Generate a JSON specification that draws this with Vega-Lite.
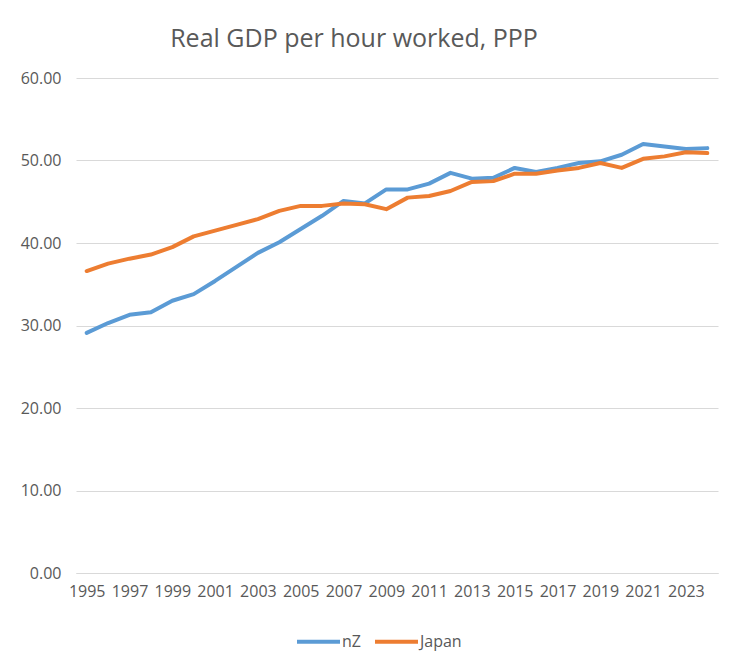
{
  "$schema": "https://vega.github.io/schema/vega-lite/v6.json",
  "width": 642,
  "height": 495,
  "autosize": {"type": "none"},
  "padding": {"left": 76, "top": 78, "right": 34, "bottom": 98},
  "background": "white",
  "title": {
    "text": "Real GDP per hour worked, PPP",
    "font": "Open Sans",
    "fontSize": 25,
    "fontWeight": "normal",
    "color": "#595959",
    "anchor": "middle",
    "dx": -43,
    "offset": 18
  },
  "data": {
    "values": [
      {"year": 1995, "series": "nZ", "value": 29.1},
      {"year": 1996, "series": "nZ", "value": 30.3},
      {"year": 1997, "series": "nZ", "value": 31.3},
      {"year": 1998, "series": "nZ", "value": 31.6},
      {"year": 1999, "series": "nZ", "value": 33.0},
      {"year": 2000, "series": "nZ", "value": 33.8},
      {"year": 2001, "series": "nZ", "value": 35.4},
      {"year": 2002, "series": "nZ", "value": 37.1},
      {"year": 2003, "series": "nZ", "value": 38.8},
      {"year": 2004, "series": "nZ", "value": 40.1},
      {"year": 2005, "series": "nZ", "value": 41.7},
      {"year": 2006, "series": "nZ", "value": 43.3},
      {"year": 2007, "series": "nZ", "value": 45.1},
      {"year": 2008, "series": "nZ", "value": 44.8},
      {"year": 2009, "series": "nZ", "value": 46.5},
      {"year": 2010, "series": "nZ", "value": 46.5},
      {"year": 2011, "series": "nZ", "value": 47.2},
      {"year": 2012, "series": "nZ", "value": 48.5},
      {"year": 2013, "series": "nZ", "value": 47.8},
      {"year": 2014, "series": "nZ", "value": 47.9},
      {"year": 2015, "series": "nZ", "value": 49.1},
      {"year": 2016, "series": "nZ", "value": 48.6},
      {"year": 2017, "series": "nZ", "value": 49.1},
      {"year": 2018, "series": "nZ", "value": 49.7},
      {"year": 2019, "series": "nZ", "value": 49.9},
      {"year": 2020, "series": "nZ", "value": 50.7},
      {"year": 2021, "series": "nZ", "value": 52.0},
      {"year": 2022, "series": "nZ", "value": 51.7},
      {"year": 2023, "series": "nZ", "value": 51.4},
      {"year": 2024, "series": "nZ", "value": 51.5},
      {"year": 1995, "series": "Japan", "value": 36.6},
      {"year": 1996, "series": "Japan", "value": 37.5},
      {"year": 1997, "series": "Japan", "value": 38.1},
      {"year": 1998, "series": "Japan", "value": 38.6},
      {"year": 1999, "series": "Japan", "value": 39.5},
      {"year": 2000, "series": "Japan", "value": 40.8},
      {"year": 2001, "series": "Japan", "value": 41.5},
      {"year": 2002, "series": "Japan", "value": 42.2},
      {"year": 2003, "series": "Japan", "value": 42.9},
      {"year": 2004, "series": "Japan", "value": 43.9},
      {"year": 2005, "series": "Japan", "value": 44.5},
      {"year": 2006, "series": "Japan", "value": 44.5},
      {"year": 2007, "series": "Japan", "value": 44.8},
      {"year": 2008, "series": "Japan", "value": 44.7},
      {"year": 2009, "series": "Japan", "value": 44.1},
      {"year": 2010, "series": "Japan", "value": 45.5},
      {"year": 2011, "series": "Japan", "value": 45.7},
      {"year": 2012, "series": "Japan", "value": 46.3},
      {"year": 2013, "series": "Japan", "value": 47.4},
      {"year": 2014, "series": "Japan", "value": 47.5},
      {"year": 2015, "series": "Japan", "value": 48.4},
      {"year": 2016, "series": "Japan", "value": 48.4},
      {"year": 2017, "series": "Japan", "value": 48.8},
      {"year": 2018, "series": "Japan", "value": 49.1},
      {"year": 2019, "series": "Japan", "value": 49.7},
      {"year": 2020, "series": "Japan", "value": 49.1},
      {"year": 2021, "series": "Japan", "value": 50.2},
      {"year": 2022, "series": "Japan", "value": 50.5},
      {"year": 2023, "series": "Japan", "value": 51.0},
      {"year": 2024, "series": "Japan", "value": 50.9}
    ]
  },
  "mark": {"type": "line", "strokeWidth": 4, "strokeCap": "round", "strokeJoin": "round"},
  "encoding": {
    "x": {
      "field": "year",
      "type": "ordinal",
      "scale": {"type": "point", "padding": 0.5},
      "axis": {
        "title": null,
        "labelAngle": 0,
        "values": [1995, 1997, 1999, 2001, 2003, 2005, 2007, 2009, 2011, 2013, 2015, 2017, 2019, 2021, 2023],
        "ticks": false,
        "domain": true,
        "domainColor": "#d9d9d9",
        "domainWidth": 1,
        "labelFont": "Open Sans",
        "labelFontSize": 16,
        "labelColor": "#595959",
        "labelPadding": 10,
        "grid": false
      }
    },
    "y": {
      "field": "value",
      "type": "quantitative",
      "scale": {"domain": [0, 60]},
      "axis": {
        "title": null,
        "values": [0, 10, 20, 30, 40, 50, 60],
        "format": ".2f",
        "ticks": false,
        "domain": false,
        "grid": true,
        "gridColor": "#d9d9d9",
        "gridWidth": 1,
        "labelFont": "Open Sans",
        "labelFontSize": 16,
        "labelColor": "#595959",
        "labelPadding": 15
      }
    },
    "color": {
      "field": "series",
      "type": "nominal",
      "scale": {"domain": ["nZ", "Japan"], "range": ["#5b9bd5", "#ed7d31"]},
      "legend": {
        "title": null,
        "orient": "none",
        "legendX": 219,
        "legendY": 540,
        "direction": "horizontal",
        "symbolType": "stroke",
        "symbolStrokeWidth": 4,
        "symbolSize": 1849,
        "labelFont": "Open Sans",
        "labelFontSize": 16,
        "labelColor": "#595959",
        "labelOffset": 0,
        "columnPadding": 6
      }
    }
  },
  "config": {"view": {"stroke": null}}
}
